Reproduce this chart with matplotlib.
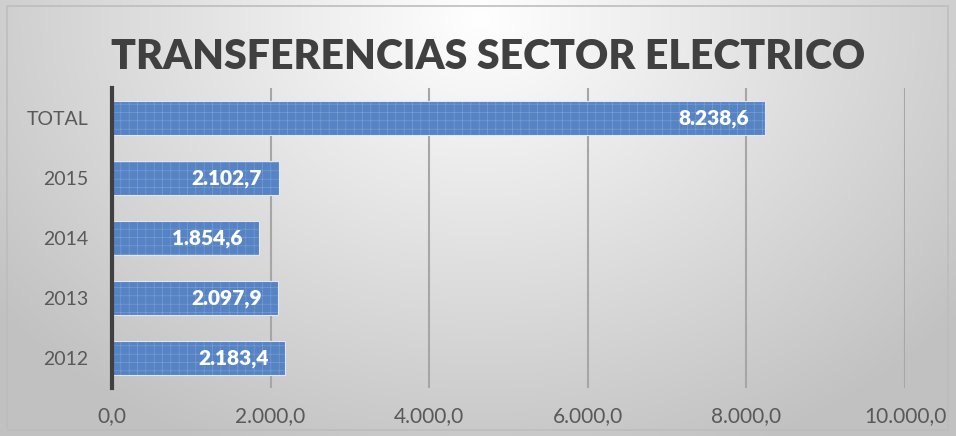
"""
Transferencias sector electrico - horizontal bars
"""
import matplotlib.pyplot as plt
from matplotlib.patches import Rectangle
import numpy as np

# data
categories = ["2012", "2013", "2014", "2015", "TOTAL"]
values = [2183.4, 2097.9, 1854.6, 2102.7, 8238.6]
value_labels = ["2.183,4", "2.097,9", "1.854,6", "2.102,7", "8.238,6"]
x_ticks = [0, 2000, 4000, 6000, 8000, 10000]
x_tick_labels = ["0,0", "2.000,0", "4.000,0", "6.000,0", "8.000,0", "10.000,0"]
title = "TRANSFERENCIAS SECTOR ELECTRICO"

plt.rcParams["font.family"] = ["Lato", "DejaVu Sans"]
plt.rcParams["hatch.linewidth"] = 0.4

W, H = 956, 436
fig = plt.figure(figsize=(W / 100, H / 100), dpi=100)

# radial gradient background
bg = fig.add_axes([0, 0, 1, 1])
yy, xx = np.mgrid[0:H, 0:W]
r = np.sqrt(((xx - 480) / 560.0) ** 2 + ((yy - 20) / 430.0) ** 2)
shade = np.clip(1.0 - 0.22 * r, 0.76, 1.0)
bg.imshow(np.dstack([shade, shade, shade]), aspect="auto", extent=[0, W, H, 0])
bg.set_xlim(0, W)
bg.set_ylim(H, 0)
bg.axis("off")
bg.add_patch(Rectangle((7, 6), W - 15, H - 12, fill=False, edgecolor="#bdbdbd", linewidth=1.2))

# plot area
ax = fig.add_axes([112 / W, 1 - 388 / H, (905 - 112) / W, 300 / H])
ax.patch.set_alpha(0)
pos = np.arange(len(categories))
# pattern fill (hatch takes the edge colour), then a light outline on top
bars = ax.barh(pos, values, height=0.57, color="#5683c3", edgecolor="#7ea2d6",
               linewidth=0, hatch="++", zorder=3)
ax.barh(pos, values, height=0.57, fill=False, edgecolor="#dfe7f4",
        linewidth=0.8, zorder=3)

for b, lab in zip(bars, value_labels):
    ax.annotate(lab, xy=(b.get_width(), b.get_y() + b.get_height() / 2),
                xytext=(-12, 0), textcoords="offset points", ha="right", va="center",
                color="white", fontsize=15, fontweight="heavy", zorder=4)

ax.set_xlim(0, 10000)
ax.set_ylim(-0.5, 4.5)
ax.set_xticks(x_ticks)
ax.set_xticklabels(x_tick_labels, fontsize=15, color="#595959")
ax.set_yticks(pos)
ax.set_yticklabels(categories, fontsize=14, color="#595959")
ax.tick_params(axis="y", length=0, pad=17)
ax.tick_params(axis="x", length=0, pad=13)
ax.grid(True, axis="x", color="#a6a6a6", linewidth=1.5, zorder=0)
for side in ["top", "right", "bottom"]:
    ax.spines[side].set_visible(False)
ax.spines["left"].set_color("#404040")
ax.spines["left"].set_linewidth(3)
ax.spines["left"].set_zorder(5)

fig.text(488 / W, 1 - 57 / H, title, ha="center", va="center", fontsize=29.5,
         fontweight="heavy", color="#404040")

fig.savefig("out.png", dpi=100)
